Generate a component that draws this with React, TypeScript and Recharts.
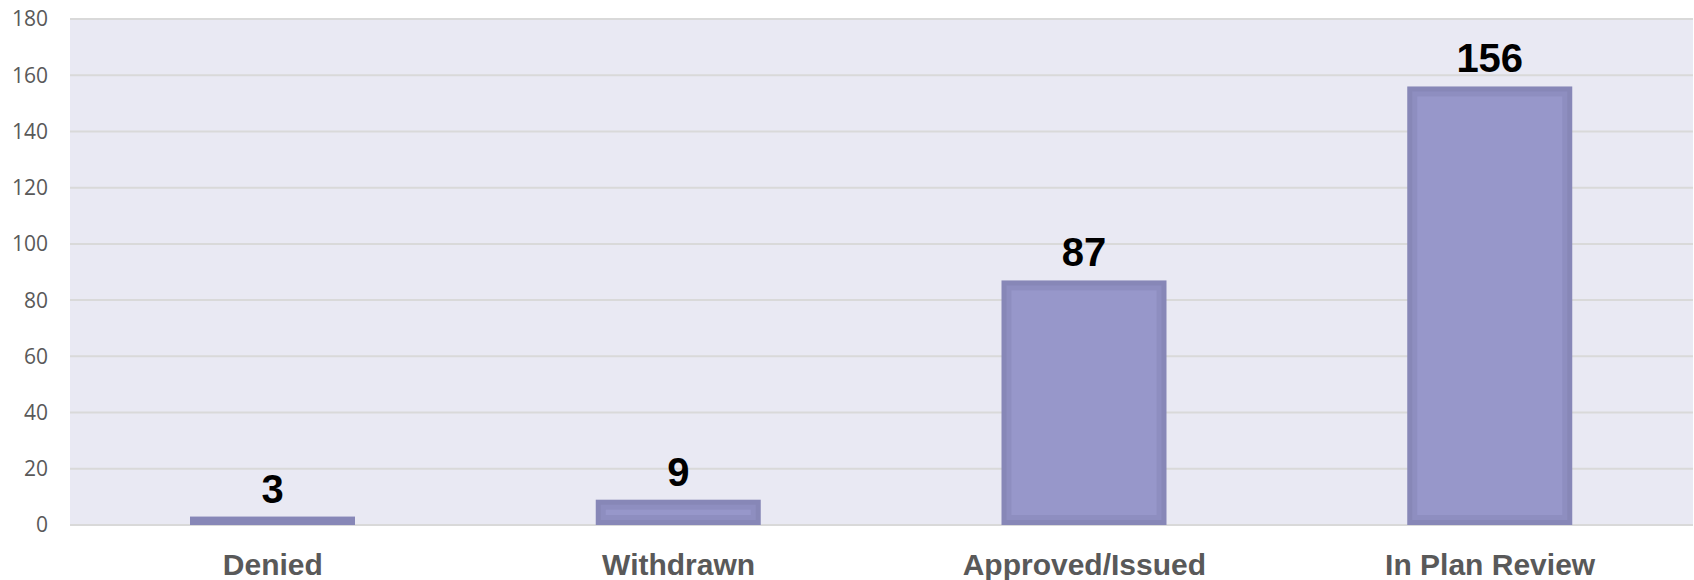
import { BarChart, Bar, XAxis, YAxis, CartesianGrid, LabelList } from 'recharts';

const categories = ['Denied', 'Withdrawn', 'Approved/Issued', 'In Plan Review'];
const counts = [3, 9, 87, 156];
const yTicks = [0, 20, 40, 60, 80, 100, 120, 140, 160, 180];

const data = categories.map((name, i) => ({ name, count: counts[i] }));

function SoftBar(props: any) {
  const { x, y, width, height } = props;
  if (height <= 0) return null;
  const layer = (inset: number, fill: string) => {
    const w = width - inset * 2;
    const h = height - inset * 2;
    if (w <= 0 || h <= 0) return null;
    return <rect x={x + inset} y={y + inset} width={w} height={h} fill={fill} />;
  };
  return (
    <g>
      {layer(0, '#8787B7')}
      {layer(5, '#8E8EC0')}
      {layer(10, '#9797CA')}
    </g>
  );
}

export default function App() {
  return (
    <div style={{ position: 'absolute', left: 0, top: 0, background: '#fff' }}>
      <BarChart
        width={1694}
        height={580}
        data={data}
        margin={{ top: 19, right: 1, left: 0, bottom: 0 }}
      >
        <CartesianGrid
          vertical={false}
          fill="#E9E9F3"
          stroke="#D9D9D9"
          strokeWidth={2}
        />
        <XAxis
          dataKey="name"
          height={55}
          axisLine={false}
          tickLine={false}
          tickMargin={23}
          tick={{ fill: '#595959', fontSize: 30, fontWeight: 'bold', fontFamily: 'Liberation Sans, Arial, sans-serif' }}
        />
        <YAxis
          width={70}
          domain={[0, 180]}
          ticks={yTicks}
          axisLine={false}
          tickLine={false}
          tickMargin={16}
          tick={{ fill: '#595959', fontSize: 21, fontFamily: 'Open Sans, sans-serif' }}
        />
        <Bar dataKey="count" barSize={165} shape={<SoftBar />} isAnimationActive={false}>
          <LabelList
            dataKey="count"
            position="top"
            offset={14}
            style={{ fill: '#000', fontSize: 40, fontWeight: 'bold', fontFamily: 'Liberation Sans, Arial, sans-serif' }}
          />
        </Bar>
      </BarChart>
    </div>
  );
}
